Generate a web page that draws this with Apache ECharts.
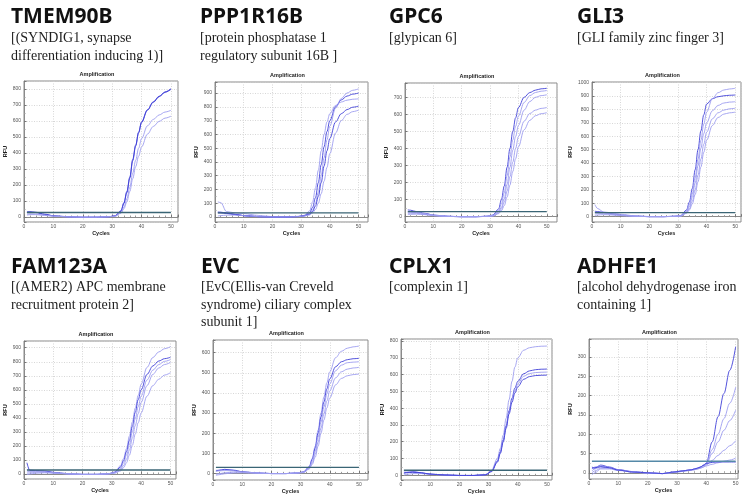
<!DOCTYPE html>
<html><head><meta charset="utf-8">
<script src="https://cdn.jsdelivr.net/npm/echarts@6/dist/echarts.min.js"></script>
<style>html,body{margin:0;padding:0;background:#fff}#c{width:750px;height:498px}</style>
</head><body><div id="c"></div>
<script>
// ---------------- DATA ----------------
const cycles = [1,2,4,7,10,15,20,25,29,31,33,34,35,36,37,38,39,40,42,44,46,48,50];

const geneSymbols = ['TMEM90B','PPP1R16B','GPC6','GLI3','FAM123A','EVC','CPLX1','ADHFE1'];
const geneNames = [
  ['[(SYNDIG1, synapse','differentiation inducing 1)]'],
  ['[protein phosphatase 1','regulatory subunit 16B ]'],
  ['[glypican 6]'],
  ['[GLI family zinc finger 3]'],
  ['[(AMER2) APC membrane','recruitment protein 2]'],
  ['[EvC(Ellis-van Creveld','syndrome) ciliary complex','subunit 1]'],
  ['[complexin 1]'],
  ['[alcohol dehydrogenase iron','containing 1]']
];
const thresholds = [28,30,30,30,28,30,30,30];

// RFU per well, sampled at the cycles above
const tmem90b = [
  [32,33,30,18,8,2,-1,-1,2,8,40,90,160,250,360,450,530,595,670,720,755,782,802],
  [30,31,28,16,7,1,-2,-1,2,7,36,84,152,242,352,444,526,590,668,717,752,779,798],
  [18,20,19,12,6,1,-1,-1,2,6,28,62,115,185,275,355,430,490,570,610,638,656,667],
  [12,15,15,10,5,1,-1,-1,2,5,24,52,95,160,240,315,380,438,518,566,598,618,630]
];
const ppp1r16b = [
  [35,34,28,18,10,3,0,0,4,12,45,110,210,340,480,600,690,750,810,835,848,855,858],
  [36,35,30,20,10,3,0,0,4,10,30,70,140,250,380,510,620,700,800,850,878,892,900],
  [110,105,40,30,25,12,3,2,5,8,25,50,100,180,300,430,560,660,790,860,900,920,930],
  [30,30,26,18,10,3,0,0,3,8,20,40,80,150,250,370,480,570,690,750,780,797,805],
  [8,10,14,14,10,3,0,0,3,7,15,30,55,100,170,260,360,460,610,700,745,765,776]
];
const gpc6 = [
  [40,38,30,20,10,3,0,0,3,10,45,100,180,290,400,500,580,640,700,728,742,750,753],
  [30,30,26,18,9,2,0,0,3,8,35,75,140,240,350,450,530,590,670,710,728,736,740],
  [25,26,24,16,8,2,0,0,2,6,28,55,105,190,290,390,470,535,625,675,700,710,715],
  [18,20,20,14,7,2,0,0,2,5,22,45,85,150,235,320,400,470,560,605,625,635,640],
  [12,14,15,12,6,2,0,0,2,4,18,35,65,115,185,265,340,410,510,565,592,604,610]
];
const gli3 = [
  [40,38,32,22,12,4,0,0,3,8,50,110,210,350,500,640,760,840,880,895,902,906,908],
  [90,60,35,28,18,6,1,0,3,6,40,90,170,290,430,570,690,780,880,925,945,953,958],
  [30,30,28,20,11,4,0,0,3,5,35,75,145,250,380,510,620,700,790,830,848,855,858],
  [20,22,22,16,9,3,0,0,2,5,30,60,115,200,310,430,540,630,730,775,795,805,809],
  [8,12,15,12,8,3,0,0,2,4,25,50,95,165,260,370,480,570,680,740,765,775,780]
];
const fam123a = [
  [30,28,24,18,8,0,-4,-3,2,15,60,110,180,270,370,470,560,640,760,830,870,893,907],
  [80,25,24,22,12,2,-3,-3,2,12,50,95,160,240,340,440,530,600,710,770,805,822,832],
  [15,18,18,15,8,1,-3,-3,1,10,40,80,135,210,300,395,480,555,670,740,780,803,815],
  [5,8,12,12,7,1,-3,-3,1,8,30,60,105,170,255,345,430,510,630,710,755,780,795],
  [-5,0,5,8,6,1,-3,-3,1,6,22,45,80,135,205,285,365,435,555,630,675,705,722]
];
const evc = [
  [15,16,18,15,8,2,-1,-1,2,8,35,75,135,215,300,380,450,505,575,607,622,629,633],
  [12,15,20,16,8,2,-1,-1,2,7,32,70,125,200,280,355,420,470,530,555,565,570,572],
  [10,12,14,12,7,2,-1,-1,2,6,28,60,110,180,255,330,395,445,510,538,550,553,555],
  [-5,-2,3,6,5,1,-1,-1,2,5,25,52,95,155,225,295,360,410,475,505,518,524,527],
  [-10,-7,-2,2,3,1,-1,-1,2,4,22,45,80,135,200,265,325,375,440,472,485,491,494]
];
const cplx1 = [
  [25,26,24,15,7,2,-1,-1,5,30,100,160,240,340,450,560,645,700,745,760,766,769,770],
  [12,15,18,14,7,2,-1,-1,4,25,85,140,210,295,385,460,520,560,605,622,629,632,633],
  [2,5,10,10,6,2,-1,-1,4,24,82,135,205,288,375,448,505,545,590,606,612,614,615],
  [15,17,20,15,7,2,-1,-1,3,22,78,130,198,280,365,435,490,528,572,588,594,596,597]
];
const adhfe1 = [
  [15,12,20,15,8,3,0,-2,2,4,6,7,8,10,12,15,20,25,80,145,205,265,326],
  [10,15,18,14,8,3,0,-2,2,4,6,7,8,10,12,15,19,24,60,100,140,180,221],
  [5,10,15,12,7,2,0,-2,2,4,6,7,8,9,11,14,18,22,50,80,110,135,162],
  [0,5,12,12,7,2,-1,-2,1,3,5,6,7,8,10,12,15,20,32,45,58,70,83],
  [-5,0,10,10,6,2,-1,-2,1,3,5,6,7,8,10,12,15,18,22,26,30,33,38],
  [12,13,16,13,7,2,0,-2,2,4,6,7,8,10,12,15,19,24,27,28,28,28,28]
];

// ---------------- AXIS SCALES ----------------
const yStep = [100,100,100,100,100,100,100,50];
const yLow  = [-31,-36,-31,-40,-36,-33,-28,-16];
const yHigh = [850,980,784,1005,948,663,812,346];
const xHigh = [52.4,53.3,53.6,52,51.9,53.1,51.7,50.8];

// ---------------- STYLE / LAYOUT ----------------
const panels = [tmem90b, ppp1r16b, gpc6, gli3, fam123a, evc, cplx1, adhfe1];
const tones = [
  ['d','d','l','l'], ['l','d','l','d','l'], ['d','l','l','l','l'], ['d','l','l','l','l'],
  ['l','d','l','l','l'], ['l','d','l','l','l'], ['l','d','l','d'], ['d','l','l','l','l','d']
];
const toneColor = {d:'#4040d8', l:'#9d9def'};
const thrColor = ['#3a6575','#3a6575','#3a6575','#3a6575','#3a6575','#3a6575','#3a6575','#5589a8'];
const cells = [
  {l:24, t:81, r:178, b:222, tx:11, gy:16.6, sy:29, lh:18},
  {l:215,t:82, r:368, b:222, tx:200,gy:16.6, sy:29, lh:18},
  {l:405,t:83, r:557, b:222, tx:389,gy:16.6, sy:29, lh:18},
  {l:592,t:82, r:741, b:222, tx:577,gy:16.6, sy:29, lh:18},
  {l:24, t:341,r:176, b:479, tx:11, gy:266.6,sy:279,lh:17.3},
  {l:213,t:340,r:368, b:480, tx:201,gy:266.6,sy:279,lh:17.3},
  {l:401,t:339,r:552, b:480, tx:389,gy:266.6,sy:279,lh:17.3},
  {l:589,t:339,r:738, b:479, tx:577,gy:266.6,sy:279,lh:17.3}
];
const small = {fontSize:5, color:'#555', fontFamily:'Liberation Sans', formatter:(v) => String(v)};
const nameStyle = {fontSize:5.5, fontWeight:'bold', color:'#222', fontFamily:'Liberation Sans'};
const split = {show:true, lineStyle:{color:'#cdcdcd', type:[1,1.5], width:0.8}};

const grid=[], xAxis=[], yAxis=[], series=[], graphic=[];
panels.forEach((curves, i) => {
  const c = cells[i];
  grid.push({left:c.l, top:c.t, width:c.r-c.l, height:c.b-c.t, show:true,
    borderColor:'#8a8a8a', borderWidth:1, backgroundColor:'#fff'});
  xAxis.push({type:'value', gridIndex:i, min:0, max:xHigh[i], interval:10,
    name:'Cycles', nameLocation:'middle', nameGap:8.5, nameTextStyle:nameStyle,
    axisLine:{show:true, lineStyle:{color:'#8a8a8a'}},
    axisTick:{show:true, inside:true, length:2.5, lineStyle:{color:'#777'}},
    minorTick:{show:true, splitNumber:5, length:1.5, lineStyle:{color:'#999'}},
    axisLabel:Object.assign({margin:2, showMaxLabel:false}, small),
    splitLine:split});
  yAxis.push({type:'value', gridIndex:i, min:yLow[i], max:yHigh[i],
    minInterval:yStep[i], maxInterval:yStep[i], splitNumber:10,
    name:'RFU', nameLocation:'middle', nameGap:12, nameTextStyle:nameStyle,
    axisLine:{show:true, lineStyle:{color:'#8a8a8a'}},
    axisTick:{show:true, inside:true, length:2.5, lineStyle:{color:'#777'}},
    minorTick:{show:true, splitNumber:2, length:1.5, lineStyle:{color:'#999'}},
    axisLabel:Object.assign({margin:3, showMinLabel:false, showMaxLabel:false}, small),
    splitLine:split});
  curves.forEach((vals, k) => {
    series.push({type:'line', xAxisIndex:i, yAxisIndex:i, silent:true,
      data: cycles.map((x, j) => [x, vals[j]]),
      showSymbol:false, smooth:0.35, smoothMonotone:'x',
      lineStyle:{width:0.9, color:toneColor[tones[i][k]]}});
  });
  series.push({type:'line', xAxisIndex:i, yAxisIndex:i, silent:true,
    data:[[cycles[0], thresholds[i]], [cycles[cycles.length-1], thresholds[i]]],
    showSymbol:false, lineStyle:{width:1.4, color:thrColor[i]}, z:5});

  graphic.push({type:'text', x:c.tx, y:c.gy, silent:true,
    style:{text:geneSymbols[i], fontSize:21, fontWeight:'bold', fontFamily:'Noto Sans',
      fill:'#111', verticalAlign:'middle'}});
  graphic.push({type:'text', x:c.tx, y:c.sy, silent:true,
    style:{text:geneNames[i].join('\n'), fontSize:14, fontFamily:'Liberation Serif',
      fill:'#1e1e1e', lineHeight:c.lh, verticalAlign:'top'}});
  graphic.push({type:'text', x:(c.l+c.r)/2-4, y:c.t-7, silent:true,
    style:{text:'Amplification', fontSize:5.5, fontWeight:'bold', fontFamily:'Liberation Sans',
      fill:'#222', align:'center', verticalAlign:'middle'}});
});

const chart = echarts.init(document.getElementById('c'), null, {renderer:'canvas'});
chart.setOption({backgroundColor:'#fff', animation:false, grid, xAxis, yAxis, series, graphic});
</script></body></html>
